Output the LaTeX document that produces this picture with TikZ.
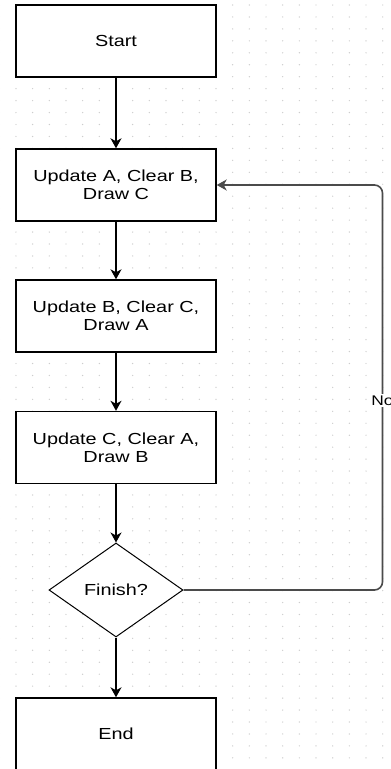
\documentclass[tikz,border=0pt]{standalone}
\usepackage{fontspec}
\usepackage{tikz}
\usetikzlibrary{arrows.meta,shapes.geometric}
\newfontfamily\flowfont[FakeStretch=1.24]{Liberation Sans}
\definecolor{dotgrey}{RGB}{205,205,205}
\definecolor{loopgrey}{RGB}{75,75,75}

\begin{document}
\begin{tikzpicture}[x=1pt, y=-1pt,
  >={Stealth[length=10pt, width=11pt, inset=3pt]},
  stepbox/.style={draw=black, line width=1.4pt, fill=white, rectangle,
    minimum width=200pt, minimum height=72pt, inner sep=0pt, align=center,
    text=black, font=\flowfont\fontsize{16}{18.3}\selectfont},
  decide/.style={draw=black, line width=1pt, fill=white, diamond,
    minimum width=134pt, minimum height=94pt, inner sep=0pt,
    font=\flowfont\fontsize{16}{18.3}\selectfont},
  flow/.style={->, line width=1.5pt, black},
  back/.style={->, line width=1.6pt, loopgrey, rounded corners=8pt}]
\useasboundingbox (0,0) rectangle (391,769);
\fill[white] (0,0) rectangle (391,769);

% dotted grid
\foreach \i in {0,...,24}
  \foreach \j in {0,...,64}
    \fill[dotgrey] (-0.7+16.67*\i, 5+11.95*\j) circle (0.7);

\node[stepbox] (start) at (116,41) {Start};
\node[stepbox] (upa) at (116,185) {Update A, Clear B,\\Draw C};
\node[stepbox] (upb) at (116,316) {Update B, Clear C,\\Draw A};
\node[stepbox] (upc) at (116,447.5) {Update C, Clear A,\\Draw B};
\node[decide] (fin) at (116,590) {Finish?};
\node[stepbox] (stop) at (116,734) {End};

\draw[flow] (start) -- (upa);
\draw[flow] (upa) -- (upb);
\draw[flow] (upb) -- (upc);
\draw[flow] (upc) -- (fin);
\draw[flow] (fin) -- (stop);

% back to the first step
\coordinate (turn) at (382.5,590);
\draw[back] (fin.east) -- (turn) |- (upa.east);
\node[fill=white, inner sep=1.5pt, text=black,
  font=\flowfont\fontsize{14}{16}\selectfont] (no) at (382.5,400.5) {No};
\end{tikzpicture}
\end{document}
